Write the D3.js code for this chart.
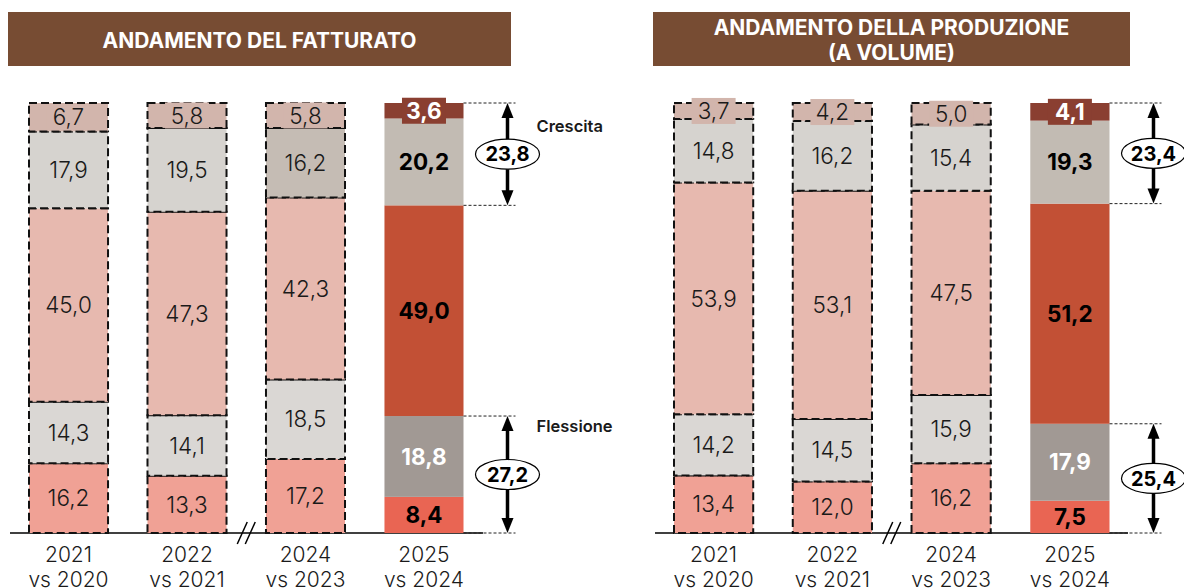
<!DOCTYPE html>
<html>
<head>
<meta charset="utf-8">
<script src="https://cdn.jsdelivr.net/npm/d3@7"></script>
<style>
  body { margin: 0; background: #fff; }
  svg { display: block; font-family: Inter, "Open Sans", sans-serif; }
</style>
</head>
<body>
<script>
var width = 1184, height = 588;

// categories (two-line tick labels)
var yearLabels = ['2021', '2022', '2024', '2025'];
var vsLabels = ['vs 2020', 'vs 2021', 'vs 2023', 'vs 2024'];

// stack order: top -> bottom
var fatturato_top = [6.7, 5.8, 5.8, 3.6];
var fatturato_s2 = [17.9, 19.5, 16.2, 20.2];
var fatturato_s3 = [45.0, 47.3, 42.3, 49.0];
var fatturato_s4 = [14.3, 14.1, 18.5, 18.8];
var fatturato_bottom = [16.2, 13.3, 17.2, 8.4];
var fatturato_crescita = 23.8, fatturato_flessione = 27.2;

var produzione_top = [3.7, 4.2, 5.0, 4.1];
var produzione_s2 = [14.8, 16.2, 15.4, 19.3];
var produzione_s3 = [53.9, 53.1, 47.5, 51.2];
var produzione_s4 = [14.2, 14.5, 15.9, 17.9];
var produzione_bottom = [13.4, 12.0, 16.2, 7.5];
var produzione_crescita = 23.4, produzione_flessione = 25.4;

// colours: past years (dashed) and the 2025 bar
var past_colors = ['#D2B5AC', '#D6D3CF', '#E7B9AF', '#DAD7D4', '#F0A195'];
var cur_colors = ['#8A3F31', '#C2BBB3', '#C25035', '#A19994', '#E96553'];
var cur_text = ['#fff', '#000', '#000', '#fff', '#000'];

var baseY = 533, topY = 103;
var yScale = d3.scaleLinear().domain([0, 100]).range([baseY, topY]);

var svg = d3.select('body').append('svg').attr('width', width).attr('height', height);

function title_box(x0, x1, lines) {
	svg.append('rect').attr('x', x0).attr('y', 12).attr('width', x1 - x0).attr('height', 54)
		.attr('fill', '#774C33');
	var cy = lines.length == 1 ? [40] : [27, 52];
	lines.forEach(function(t, i) {
		svg.append('text').attr('x', (x0 + x1) / 2).attr('y', cy[i]).attr('dy', '0.36em')
			.attr('text-anchor', 'middle').attr('fill', '#fff')
			.style('font-size', '21px').style('font-weight', 700)
			.text(t);
	});
}

function plot_panel(p) {
	var g = svg.append('g');
	var xScale = d3.scaleBand().domain(yearLabels).range(p.range).paddingInner(0.333).paddingOuter(0);
	var bw = xScale.bandwidth();

	// baseline
	g.append('line').attr('x1', p.axis[0]).attr('x2', p.axis[1]).attr('y1', baseY).attr('y2', baseY)
		.attr('stroke', '#000').attr('stroke-width', 1.5);

	var rows = [];
	yearLabels.forEach(function(yr, i) {
		var vals = p.series.map(s => s[i]);
		var acc = 0;
		for (var k = vals.length - 1; k >= 0; k--) {
			rows.push({cat: yr, idx: i, k: k, v: vals[k], y0: acc, y1: Math.min(acc + vals[k], 100)});
			acc += vals[k];
		}
	});

	var cur = yearLabels.length - 1;
	var segG = g.append('g').selectAll('g').data(rows).enter().append('g');
	segG.append('rect')
		.attr('x', d => xScale(d.cat))
		.attr('width', bw)
		.attr('y', d => yScale(d.y1))
		.attr('height', d => yScale(d.y0) - yScale(d.y1))
		.attr('fill', function(d) {
			if (d.idx == cur) return cur_colors[d.k];
			if (p.darker && p.darker[0] == d.idx && p.darker[1] == d.k) return '#C5BCB4';
			return past_colors[d.k];
		})
		.attr('stroke', d => d.idx == cur ? 'none' : '#111')
		.attr('stroke-width', 2)
		.attr('stroke-dasharray', '8,4');

	// label background for top segment
	segG.filter(d => d.k == 0).append('rect')
		.attr('x', d => xScale(d.cat) + bw / 2 - 22)
		.attr('width', 44)
		.attr('y', d => yScale((d.y0 + d.y1) / 2) - 13)
		.attr('height', 26)
		.attr('fill', d => d.idx == cur ? cur_colors[0] : past_colors[0]);

	segG.append('text')
		.attr('x', d => xScale(d.cat) + bw / 2)
		.attr('y', d => yScale((d.y0 + d.y1) / 2))
		.attr('dy', '0.36em')
		.attr('text-anchor', 'middle')
		.style('font-size', '22.5px')
		.style('font-weight', d => d.idx == cur ? 700 : 300)
		.attr('fill', d => d.idx == cur ? cur_text[d.k] : '#1a1a1a')
		.text(d => d3.format('.1f')(d.v).replace('.', ','));

	// x labels
	var lab = g.append('g').selectAll('text').data(yearLabels).enter();
	lab.append('text').attr('x', d => xScale(d) + bw / 2).attr('y', 554).attr('dy', '0.36em')
		.attr('text-anchor', 'middle').style('font-size', '21px').style('font-weight', 300)
		.attr('fill', '#1a1a1a').text(d => d);
	lab.append('text').attr('x', d => xScale(d) + bw / 2).attr('y', 579).attr('dy', '0.36em')
		.attr('text-anchor', 'middle').style('font-size', '21px').style('font-weight', 300)
		.attr('fill', '#1a1a1a').text((d, i) => vsLabels[i]);

	// axis break
	var bx = (xScale(yearLabels[1]) + bw + xScale(yearLabels[2])) / 2;
	[-4, 4].forEach(function(o) {
		g.append('line').attr('x1', bx + o - 5).attr('y1', 544).attr('x2', bx + o + 5).attr('y2', 522)
			.attr('stroke', '#000').attr('stroke-width', 1.5);
	});

	// crescita / flessione brackets
	var right = xScale(yearLabels[cur]) + bw;
	var ax = right + 44;
	var groups = [
		{top: 100, bottom: 100 - p.crescita, v: p.crescita, label: 'Crescita', off: 23},
		{top: p.flessione, bottom: 0, v: p.flessione, label: 'Flessione', off: 10}
	];
	groups.forEach(function(b) {
		var y1 = yScale(b.top), y2 = yScale(b.bottom), cy = (y1 + y2) / 2;
		[y1, y2].forEach(function(yy) {
			g.append('line').attr('x1', right).attr('x2', ax + 8).attr('y1', yy).attr('y2', yy)
				.attr('stroke', '#222').attr('stroke-width', 1).attr('stroke-dasharray', '3,2');
		});
		g.append('line').attr('x1', ax).attr('x2', ax).attr('y1', y1 + 12).attr('y2', y2 - 12)
			.attr('stroke', '#000').attr('stroke-width', 3.5);
		g.append('path').attr('d', 'M' + ax + ',' + y1 + 'l-6,15l12,0z').attr('fill', '#000');
		g.append('path').attr('d', 'M' + ax + ',' + y2 + 'l-6,-15l12,0z').attr('fill', '#000');
		g.append('ellipse').attr('cx', ax).attr('cy', cy).attr('rx', 32).attr('ry', 15)
			.attr('fill', '#fff').attr('stroke', '#000').attr('stroke-width', 1.2);
		g.append('text').attr('x', ax).attr('y', cy).attr('dy', '0.36em').attr('text-anchor', 'middle')
			.style('font-size', '20px').style('font-weight', 700).attr('fill', '#000')
			.text(d3.format('.1f')(b.v).replace('.', ','));
		if (p.side_labels) {
			g.append('text').attr('x', ax + 29).attr('y', y1 + b.off).attr('dy', '0.36em')
				.style('font-size', '16.5px').style('font-weight', 600).attr('fill', '#1a1a1a')
				.text(b.label);
		}
	});
}

title_box(8, 511, ['ANDAMENTO DEL FATTURATO']);
title_box(653, 1130, ['ANDAMENTO DELLA PRODUZIONE', '(A VOLUME)']);

plot_panel({
	range: [29, 463.5], axis: [10, 483],
	series: [fatturato_top, fatturato_s2, fatturato_s3, fatturato_s4, fatturato_bottom],
	crescita: fatturato_crescita, flessione: fatturato_flessione,
	side_labels: true, darker: [2, 1]
});
plot_panel({
	range: [674, 1109.5], axis: [655, 1128],
	series: [produzione_top, produzione_s2, produzione_s3, produzione_s4, produzione_bottom],
	crescita: produzione_crescita, flessione: produzione_flessione,
	side_labels: false
});
</script>
</body>
</html>
